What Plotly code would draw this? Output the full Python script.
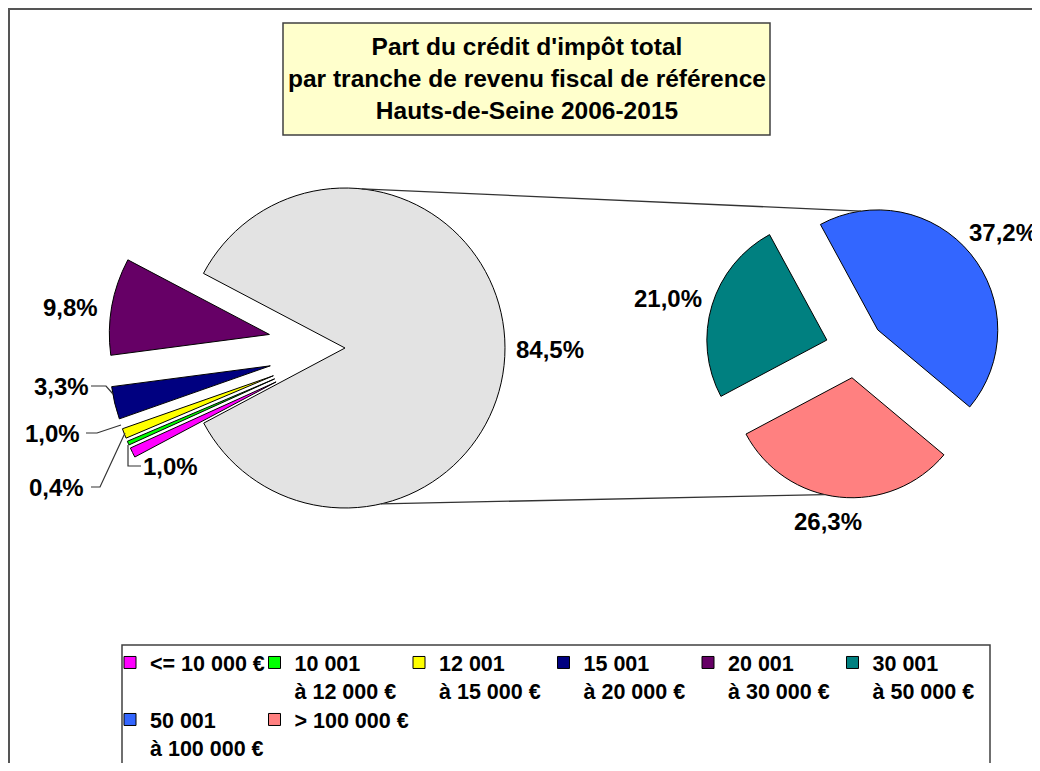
import math
import plotly.graph_objects as go

# ---------------- data ----------------
categories = ["<= 10 000 €", "10 001<br>à 12 000 €", "12 001<br>à 15 000 €",
              "15 001<br>à 20 000 €", "20 001<br>à 30 000 €", "30 001<br>à 50 000 €",
              "50 001<br>à 100 000 €", "> 100 000 €"]
shares = [1.0, 0.4, 1.0, 3.3, 9.8, 21.0, 37.2, 26.3]
colors = ["#FF00FF", "#00FF00", "#FFFF00", "#000080", "#660066",
          "#008080", "#3366FF", "#FF8080"]
n_main = 5                      # first five slices in the main pie
other_label = "Autres"
other_color = "#E3E3E3"
title_lines = ["Part du crédit d'impôt total",
               "par tranche de revenu fiscal de référence",
               "Hauts-de-Seine 2006-2015"]

main_labels = categories[:n_main] + [other_label]
main_values = shares[:n_main] + [round(sum(shares[n_main:]), 1)]
main_colors = colors[:n_main] + [other_color]
sec_labels = categories[n_main:]
sec_values = shares[n_main:]
sec_colors = colors[n_main:]

# ---------------- layout geometry (page pixels) ----------------
OFF = 8                      # page body margin
W, H = 1032, 755             # figure size (fits the 1040x771 window)
C1, R1, PULL1 = (345.0, 348.0), 160.0, 0.48
C2, R2, PULL2 = (855.0, 348.5), 120.0, 0.245
START = 208.0  # math angle (deg) where first slice starts, clockwise
FONT = "Liberation Sans, Arial, sans-serif"


def px(x):
    return (x - OFF) / W


def py(y):
    return 1 - (y - OFF) / H


def domain(c, r, p):
    h = r * (1 + p)
    return dict(x=[px(c[0] - h), px(c[0] + h)], y=[py(c[1] + h), py(c[1] - h)])


def fmt(v):
    return f"{v:.1f}%".replace(".", ",")


fig = go.Figure()
fig.add_trace(go.Pie(
    labels=main_labels, values=main_values, sort=False, direction="clockwise",
    rotation=90 - START, domain=domain(C1, R1, PULL1),
    pull=[PULL1] * n_main + [0],
    marker=dict(colors=main_colors, line=dict(color="#000000", width=1)),
    textinfo="none", hoverinfo="label+value", showlegend=False))
fig.add_trace(go.Pie(
    labels=sec_labels, values=sec_values, sort=False, direction="clockwise",
    rotation=90 - START, domain=domain(C2, R2, PULL2),
    pull=[PULL2] * len(sec_values),
    marker=dict(colors=sec_colors, line=dict(color="#000000", width=1)),
    textinfo="none", hoverinfo="label+value", showlegend=False))

# legend entries (two rows, as in the original)
for i, (cat, col) in enumerate(zip(categories, colors)):
    fig.add_trace(go.Scatter(
        x=[None], y=[None], mode="markers", name=cat,
        marker=dict(symbol="square", size=12, color=col,
                    line=dict(color="#000000", width=1)),
        legend="legend" if i < 6 else "legend2",
        legendwidth=130 if i == len(categories) - 1 else None,
        hoverinfo="skip"))

shapes = []
# outer chart frame
shapes.append(dict(type="rect", xref="paper", yref="paper",
                   x0=px(9), x1=px(1060), y0=py(800), y1=py(9),
                   line=dict(color="#555555", width=2), layer="below"))
# title box
shapes.append(dict(type="rect", xref="paper", yref="paper",
                   x0=px(283), x1=px(770), y0=py(135), y1=py(23),
                   fillcolor="#FFFFCC", line=dict(color="#404040", width=1.5),
                   layer="below"))
# legend box
shapes.append(dict(type="rect", xref="paper", yref="paper",
                   x0=px(122), x1=px(990), y0=py(769), y1=py(645),
                   line=dict(color="#404040", width=1.5), layer="below"))


def on_circle(c, r, ang):
    a = math.radians(ang)
    return c[0] + r * math.cos(a), c[1] - r * math.sin(a)


def slice_offset(c, r, p, mid):
    a = math.radians(mid)
    return c[0] + r * p * math.cos(a), c[1] - r * p * math.sin(a)


# connector lines between the "other" slice and the secondary pie
tot2 = sum(sec_values)
mids2 = []
acc = START
for v in sec_values:
    span = v / tot2 * 360
    mids2.append(acc - span / 2)
    acc -= span
blue_c = slice_offset(C2, R2, PULL2, mids2[1])
pink_c = slice_offset(C2, R2, PULL2, mids2[2])
p_a = on_circle(C1, R1, 84)
p_b = on_circle(blue_c, R2, 98)
p_c = on_circle(C1, R1, -77)
p_d = on_circle(pink_c, R2, 257)
for a, b in [(p_a, p_b), (p_c, p_d)]:
    shapes.append(dict(type="line", xref="paper", yref="paper",
                       x0=px(a[0]), y0=py(a[1]), x1=px(b[0]), y1=py(b[1]),
                       line=dict(color="#333333", width=1.3)))

# leader lines for the small slices
leaders = [
    [(91, 386), (106, 386), (113, 394)],
    [(86, 433), (97, 433), (121, 425)],
    [(91, 487), (100, 487), (125, 433)],
    [(128, 445), (128, 466), (141, 466)],
]
for pts in leaders:
    path = "M " + " L ".join(f"{px(x)} {py(y)}" for x, y in pts)
    shapes.append(dict(type="path", xref="paper", yref="paper", path=path,
                       line=dict(color="#333333", width=1.2)))

annotations = []
annotations.append(dict(
    text="<br>".join(title_lines), x=px(527), y=py(79), xref="paper", yref="paper",
    xanchor="center", yanchor="middle", showarrow=False, align="center",
    font=dict(family=FONT, size=24.5, color="#000000", weight="bold")))

label_pos_main = [(170, 467), (56, 487), (52, 433), (61, 386), (70, 307), (550, 350)]
label_pos_sec = [(668, 298), (1003, 232), (828, 521)]
for v, (x, y) in zip(main_values + sec_values, label_pos_main + label_pos_sec):
    annotations.append(dict(text=fmt(v), x=px(x), y=py(y), xref="paper", yref="paper",
                            xanchor="center", yanchor="middle", showarrow=False,
                            font=dict(family=FONT, size=24, color="#000000", weight="bold")))

legend_common = dict(orientation="h", xanchor="left", yanchor="top",
                     entrywidth=99.5, entrywidthmode="pixels", valign="top",
                     bgcolor="rgba(0,0,0,0)", borderwidth=0, itemclick=False,
                     font=dict(family=FONT, size=21.5, color="#000000", weight="bold"))

fig.update_layout(
    width=W, height=H, margin=dict(l=0, r=0, t=0, b=0, autoexpand=False),
    paper_bgcolor="#FFFFFF", plot_bgcolor="#FFFFFF",
    xaxis=dict(visible=False), yaxis=dict(visible=False),
    shapes=shapes, annotations=annotations,
    legend=dict(x=px(110), y=py(642), **legend_common),
    legend2=dict(x=px(110), y=py(699), **legend_common),
)

fig.write_html("out.html")
